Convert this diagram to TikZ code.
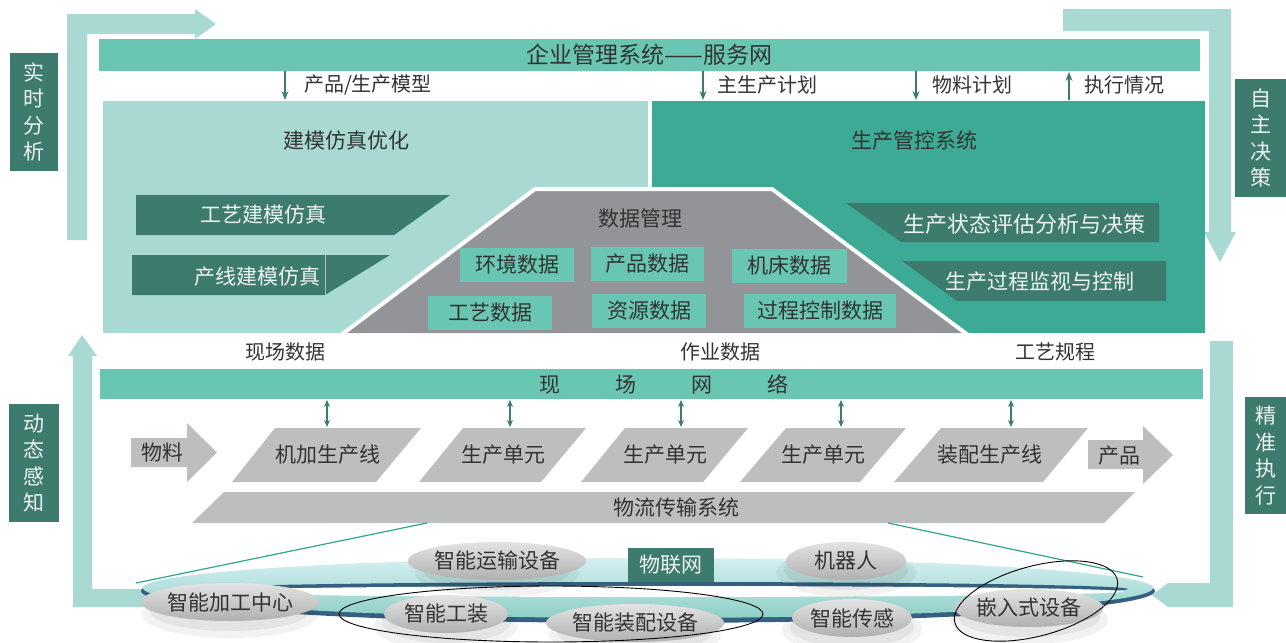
\documentclass[tikz,border=0pt]{standalone}
\usepackage{fontspec}
\setmainfont{Noto Sans CJK SC}
\usetikzlibrary{shapes.geometric,arrows.meta}
\definecolor{barc}{HTML}{68C6B3}
\definecolor{lightc}{HTML}{A8DAD3}
\definecolor{midc}{HTML}{3CAA95}
\definecolor{darkc}{HTML}{3D7B6E}
\definecolor{grayd}{HTML}{939498}
\definecolor{grayl}{HTML}{BDBEC0}
\definecolor{txt}{HTML}{333333}
\definecolor{wtxt}{HTML}{EEF3F1}
\definecolor{rimc}{HTML}{34617F}
\definecolor{linec}{HTML}{2FA58C}
\definecolor{ringtop}{HTML}{D6F0F2}
\definecolor{ringbot}{HTML}{8ECFC5}
\tikzset{
 tA/.style={font=\fontsize{20}{24}\selectfont},
 tB/.style={font=\fontsize{21}{25}\selectfont},
 lbl/.style={tB, text=txt, inner sep=0pt},
 wlbl/.style={tB, text=wtxt, inner sep=0pt},
 vbox/.style={fill=darkc, text=wtxt, font=\fontsize{21}{26.5}\selectfont, align=center, inner sep=0pt, minimum width=48pt, minimum height=118pt},
 flowarr/.style={draw=darkc, line width=1.3pt, -{Stealth[length=9pt,width=7pt]}},
 dblarr/.style={draw=darkc, line width=1.1pt, {Stealth[length=7pt,width=6pt]}-{Stealth[length=7pt,width=6pt]}},
 databox/.style={fill=barc, text=txt, tB, minimum height=34pt, inner sep=0pt},
 gnode/.style={ellipse, inner sep=0pt, minimum height=38pt, top color=gray!22, bottom color=gray!62, middle color=gray!42, text=txt, tB},
 ringline/.style={draw=linec, line width=1.2pt},
 loop/.style={draw=black, line width=0.9pt}
}
\begin{document}
\begin{tikzpicture}[x=1pt,y=-1pt]
\useasboundingbox (0,0) rectangle (1286,643);
% big L arrows
\fill[lightc] (67,240) -- (67,14) -- (195,14) -- (195,9) -- (216,24) -- (195,39) -- (195,34) -- (87,34) -- (87,240) -- cycle;
\fill[lightc] (1063,9) -- (1231,9) -- (1231,232) -- (1236,232) -- (1220,262) -- (1204,232) -- (1209,232) -- (1209,31) -- (1063,31) -- cycle;
\fill[lightc] (73,607) -- (73,356) -- (68,356) -- (82,335) -- (97,356) -- (92,356) -- (92,589) -- (160,589) -- (160,607) -- cycle;
\fill[lightc] (1210,341) -- (1233,341) -- (1233,607) -- (1168,607) -- (1152,595) -- (1168,583) -- (1210,583) -- cycle;
% side labels
\node[vbox] (rt) at (34,112) {实\\时\\分\\析};
\node[vbox, minimum width=51pt] (zz) at (1260.5,138) {自\\主\\决\\策};
\node[vbox, minimum width=50pt] (dt) at (34,463) {动\\态\\感\\知};
\node[vbox, minimum width=41pt, minimum height=117pt] (jz) at (1265.5,455.5) {精\\准\\执\\行};
% top bar
\node[fill=barc, minimum width=1101pt, minimum height=32pt, inner sep=0pt, text=txt, font=\fontsize{23}{27}\selectfont] (erp) at (649.5,55) {企业管理系统——服务网};
% main boxes
\node[fill=lightc, minimum width=545pt, minimum height=232pt, inner sep=0pt] (mb) at (375.5,217) {};
\node[fill=midc, minimum width=553pt, minimum height=232pt, inner sep=0pt] (pc) at (928.5,217) {};
\node[lbl] (mbt) at (346,141) {建模仿真优化};
\node[lbl] (pct) at (914,141) {生产管控系统};
% top arrows and labels
\coordinate (a1s) at (285,71); \coordinate (a1e) at (285,100);
\coordinate (a2s) at (703,71); \coordinate (a2e) at (703,100);
\coordinate (a3s) at (916,71); \coordinate (a3e) at (916,100);
\coordinate (a4s) at (1069,100); \coordinate (a4e) at (1069,72);
\draw[flowarr] (a1s) -- (a1e);
\draw[flowarr] (a2s) -- (a2e);
\draw[flowarr] (a3s) -- (a3e);
\draw[flowarr] (a4s) -- (a4e);
\node[lbl, tA] (l1) at (368,85) {产品/生产模型};
\node[lbl, tA] (l2) at (767,85) {主生产计划};
\node[lbl, tA] (l3) at (972,85) {物料计划};
\node[lbl, tA] (l4) at (1124,85) {执行情况};
% left items
\fill[darkc] (136,195) -- (450,195) -- (394,235) -- (136,235) -- cycle;
\node[wlbl] (gy) at (263,215) {工艺建模仿真};
\fill[darkc] (132,255) -- (390,255) -- (325,295) -- (132,295) -- cycle;
\draw[white!55!darkc, line width=0.6pt] (325,255) -- (325,295);
\node[wlbl] (cx) at (257,277) {产线建模仿真};
% right items
\fill[darkc] (846,203) -- (1159,203) -- (1159,242) -- (901,242) -- cycle;
\node[wlbl, font=\fontsize{22}{26}\selectfont] (zt) at (1024,224) {生产状态评估分析与决策};
\fill[darkc] (902,261) -- (1166,261) -- (1166,301) -- (957,301) -- cycle;
\node[wlbl] (jk) at (1040,282) {生产过程监视与控制};
% data management trapezoid
\fill[grayd] (341,333) -- (535,189) -- (772,189) -- (968,333) -- cycle;
\draw[white, line width=4pt, line join=miter] (341,335) -- (535,189) -- (772,189) -- (968,335);
\node[lbl] (dm) at (640,219) {数据管理};
\node[databox, minimum width=114pt] (d1) at (517,264.5) {环境数据};
\node[databox, minimum width=113pt] (d2) at (647.5,263.5) {产品数据};
\node[databox, minimum width=115pt] (d3) at (789.5,265.5) {机床数据};
\node[databox, minimum width=124pt] (d4) at (490,312.5) {工艺数据};
\node[databox, minimum width=114pt] (d5) at (649,311) {资源数据};
\node[databox, minimum width=152pt] (d6) at (820,311) {过程控制数据};
% data labels
\node[lbl, tA] (s1) at (285,352) {现场数据};
\node[lbl, tA] (s2) at (720,352) {作业数据};
\node[lbl, tA] (s3) at (1055,352) {工艺规程};
% field network
\node[fill=barc, minimum width=1103pt, minimum height=30pt, inner sep=0pt] (fn) at (651.5,384) {};
\node[lbl] (fnt) at (664,384) {现\hspace{55pt}场\hspace{55pt}网\hspace{55pt}络};
\foreach \i/\x in {1/327,2/510,3/681,4/841,5/1011}{
  \coordinate (u\i) at (\x,400); \coordinate (v\i) at (\x,427);
  \draw[dblarr] (u\i) -- (v\i);
}
% production row
\fill[grayl] (131,438) -- (187,438) -- (187,423) -- (217,452.5) -- (187,482) -- (187,467) -- (131,467) -- cycle;
\node[lbl] (wl) at (162,453) {物料};
\fill[grayl] (232,482) -- (275,428) -- (421,428) -- (376,482) -- cycle;
\node[lbl] (p1) at (328,455) {机加生产线};
\fill[grayl] (419,482) -- (463,428) -- (586,428) -- (541,482) -- cycle;
\node[lbl] (p2) at (503,455) {生产单元};
\fill[grayl] (581,482) -- (625,428) -- (748,428) -- (703,482) -- cycle;
\node[lbl] (p3) at (665,455) {生产单元};
\fill[grayl] (740,482) -- (786,428) -- (906,428) -- (860,482) -- cycle;
\node[lbl] (p4) at (823,455) {生产单元};
\fill[grayl] (894,482) -- (941,428) -- (1088,428) -- (1043,482) -- cycle;
\node[lbl] (p5) at (990,455) {装配生产线};
\fill[grayl] (1088,440) -- (1143,440) -- (1143,426) -- (1173,455) -- (1143,484) -- (1143,469) -- (1088,469) -- cycle;
\node[lbl] (cp) at (1119,456) {产品};
\fill[grayl] (192,523) -- (224,492) -- (1135,492) -- (1104,523) -- cycle;
\node[lbl] (wlc) at (676,507) {物流传输系统};
% perspective lines
\coordinate (q1) at (427,523); \coordinate (q2) at (136,583);
\coordinate (q3) at (888,523); \coordinate (q4) at (1143,577);
\draw[ringline] (q1) -- (q2);
\draw[ringline] (q3) -- (q4);
% IoT ring
\fill[rimc] (648,591) ellipse [x radius=507, y radius=32];
\shade[top color=ringtop, bottom color=ringbot] (648,588) ellipse [x radius=505, y radius=30];
\fill[rimc] (660,589) ellipse [x radius=468, y radius=7];
\fill[white] (660,591.5) ellipse [x radius=463, y radius=5.5];
% gray device nodes
\foreach \nm/\cx/\cy/\w/\t in {g1/230/602/156/智能加工中心, g2/497/561/144/智能运输设备, g3/846/561/120/机器人, g4/446/614/124/智能工装, g5/635/623/152/智能装配设备, g6/852/618/120/智能传感, g7/1029/608/138/嵌入式设备}{
  \fill[black, opacity=0.05] (\cx,\cy+12) ellipse [x radius=\w/2+10, y radius=24];
  \fill[black, opacity=0.06] (\cx,\cy+9) ellipse [x radius=\w/2+2, y radius=20];
  \node[gnode, minimum width=\w pt] (\nm) at (\cx,\cy) {\t};
}
\node[fill=darkc, text=wtxt, tB, minimum width=86pt, minimum height=34pt, inner sep=0pt] (iot) at (671,565) {物联网};
% outline loops
\draw[loop] (551,614) ellipse [x radius=212, y radius=28];
\draw[loop, rotate around={15:(1036,601)}] (1036,601) ellipse [x radius=84, y radius=35];
\end{tikzpicture}
\end{document}
